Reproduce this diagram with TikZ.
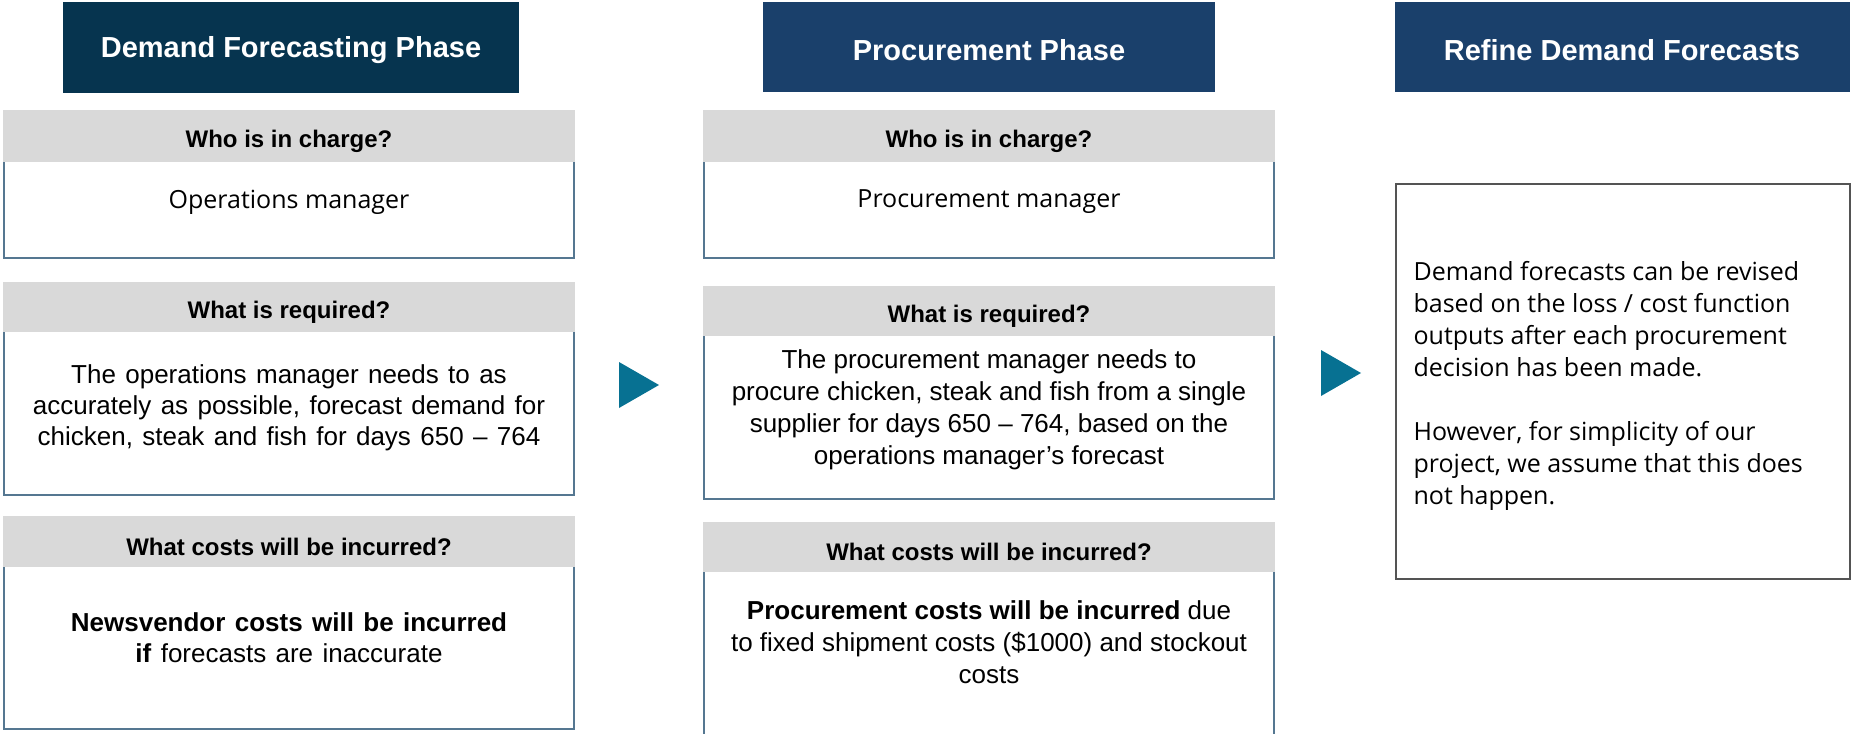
\documentclass[tikz,border=0pt]{standalone}
\usepackage{fontspec}
\setmainfont{Liberation Sans}
\newfontfamily\seg{Open Sans}
\usepackage{tikz}
\tikzset{>=latex}
\definecolor{hdd}{HTML}{06344F}
\definecolor{hdb}{HTML}{1A406B}
\definecolor{bnd}{gray}{.85}
\definecolor{brd}{HTML}{557791}
\definecolor{bxg}{gray}{.33}
\definecolor{arr}{HTML}{077192}
\newcommand*{\wsp}{\spaceskip=.36em plus .1em\relax}

\begin{document}
\begin{tikzpicture}[x=1pt, y=-1pt,
    ph/.style={text=white, font=\bfseries\fontsize{29}{34}\selectfont},
    qh/.style={font=\bfseries\fontsize{24}{28}\selectfont},
    bd/.style={align=center, font=\fontsize{26}{32}\selectfont},
    bdw/.style={align=center, font=\fontsize{26}{31}\selectfont\wsp},
    sg/.style={font=\seg\fontsize{25}{32}\selectfont}]
    \useasboundingbox(0, 0)rectangle(1855, 734);
    % column headers
    \fill[hdd](63, 2)rectangle(519, 93);
    \fill[hdb](763, 2)rectangle(1215, 92);
    \fill[hdb](1395, 2)rectangle(1850, 92);
    \node[ph](hd1) at(291, 50){Demand Forecasting Phase};
    \node[ph](hd2) at(989, 50){Procurement Phase};
    \node[ph](hd3) at(1622, 50){Refine Demand Forecasts};
    % white boxes, left column
    \draw[brd, line width=2](4, 162)|-(574, 258)--(574, 162);
    \draw[brd, line width=2](4, 332)|-(574, 495)--(574, 332);
    \draw[brd, line width=2](4, 567)|-(574, 729)--(574, 567);
    % white boxes, middle column
    \draw[brd, line width=2](704, 162)|-(1274, 258)--(1274, 162);
    \draw[brd, line width=2](704, 336)|-(1274, 499)--(1274, 336);
    \draw[brd, line width=2](704, 572)--(704, 734);
    \draw[brd, line width=2](1274, 572)--(1274, 734);
    % grey question bands
    \fill[bnd](3, 110)rectangle(575, 162);
    \fill[bnd](3, 282)rectangle(575, 332);
    \fill[bnd](3, 516)rectangle(575, 567);
    \fill[bnd](703, 110)rectangle(1275, 162);
    \fill[bnd](703, 286)rectangle(1275, 336);
    \fill[bnd](703, 522)rectangle(1275, 572);
    \node[qh](q11) at(289, 141){Who is in charge?};
    \node[qh](q12) at(289, 312){What is required?};
    \node[qh](q13) at(289, 547){What costs will be incurred?};
    \node[qh](q21) at(989, 141){Who is in charge?};
    \node[qh](q22) at(989, 316){What is required?};
    \node[qh](q23) at(989, 552){What costs will be incurred?};
    % answers
    \node[sg](a11) at(289, 202){Operations manager};
    \node[bdw](a12) at(289, 408){The operations manager needs to as\\accurately as possible, forecast demand for\\chicken, steak and fish for days 650 -- 764};
    \node[bdw](a13) at(289, 638){\textbf{Newsvendor costs will be incurred}\\\textbf{if} forecasts are inaccurate};
    \node[sg](a21) at(989, 202){Procurement manager};
    \node[bd](a22) at(989, 410){The procurement manager needs to\\procure chicken, steak and fish from a single\\supplier for days 650 -- 764, based on the\\operations manager's forecast};
    \node[bd](a23) at(989, 642){\textbf{Procurement costs will be incurred} due\\to fixed shipment costs (\$1000) and stockout\\costs};
    % right column note
    \draw[bxg, line width=2](1396, 184)rectangle(1850, 579);
    \node[sg, align=left, anchor=west](a3) at(1410, 386){Demand forecasts can be revised\\based on the loss / cost function\\outputs after each procurement\\decision has been made.\\[32pt]However, for simplicity of our\\project, we assume that this does\\not happen.};
    % flow triangles
    \fill[arr](619, 362)--(659, 385)--(619, 408)--cycle;
    \fill[arr](1321, 350)--(1361, 373)--(1321, 396)--cycle;
\end{tikzpicture}
\end{document}
